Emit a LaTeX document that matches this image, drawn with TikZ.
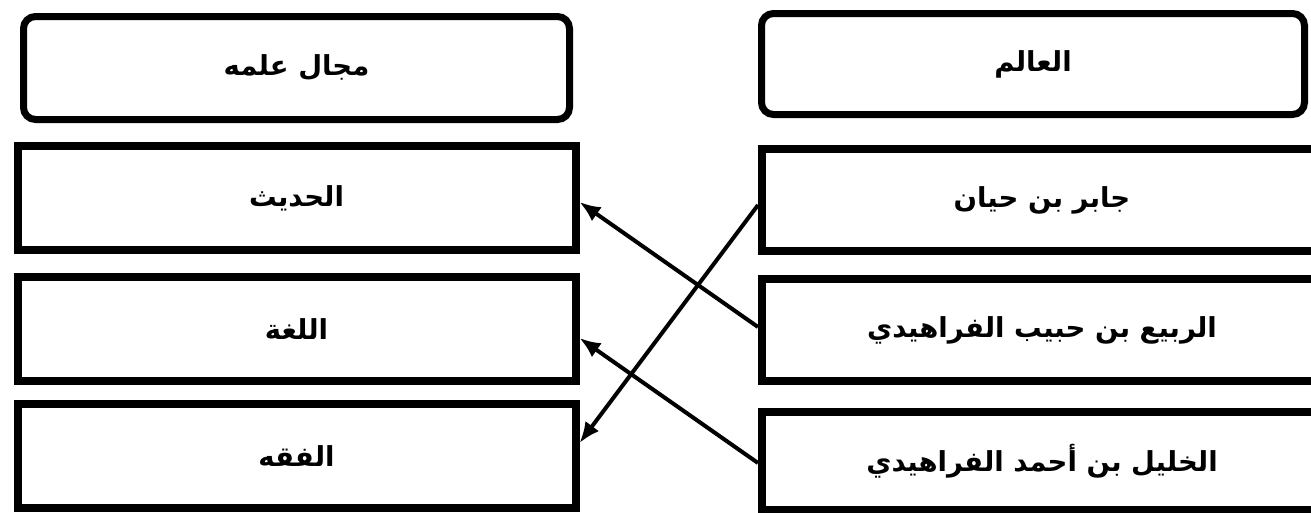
\documentclass[tikz,border=0pt]{standalone}
\usepackage{fontspec}
\newfontfamily\arabicfont[Script=Arabic]{DejaVu Sans}
\TeXXeTstate=1
\usetikzlibrary{positioning,arrows.meta}
\newcommand{\artext}[1]{{\arabicfont\bfseries\fontsize{27.5}{32}\selectfont\beginR #1\endR}}

\begin{document}
\begin{tikzpicture}[x=1pt, y=-1pt,
        headbox/.style={draw, line width=7pt, rounded corners=12pt, inner sep=0pt},
        cellbox/.style={draw, line width=8pt, inner sep=0pt},
        link/.style={-{Latex[length=21pt,width=17pt]}, line width=4pt}]
        \useasboundingbox (0,0) rectangle (1311,512);

        % Fields (left column)
        \node (F0) [headbox, minimum width=546pt, minimum height=103pt] at (296.5,68) {\artext{مجال علمه}};

        \node (F1) [cellbox, minimum width=558pt, minimum height=104pt, below=19pt of F0] {\artext{الحديث}};

        \node (F2) [cellbox, minimum width=558pt, minimum height=104pt, below=19pt of F1] {\artext{اللغة}};

        \node (F3) [cellbox, minimum width=558pt, minimum height=104pt, below=15pt of F2] {\artext{الفقه}};

        % Scholars (right column)
        \node (S0) [headbox, minimum width=543pt, minimum height=101pt] at (1033,64) {\artext{العالم}};

        \node (S1) [cellbox, minimum width=560pt, minimum height=102pt, below=27pt of S0, xshift=9pt] {\artext{جابر بن حيان}};

        \node (S2) [cellbox, minimum width=560pt, minimum height=102pt, below=20pt of S1] {\artext{الربيع بن حبيب الفراهيدي}};

        \node (S3) [cellbox, minimum width=560pt, minimum height=98pt, below=23pt of S2] {\artext{الخليل بن أحمد الفراهيدي}};

        % Drawing lines between the points
        \draw[link] ([yshift=-5pt]S1.west) -- ([yshift=13pt]F3.east);
        \draw[link] ([yshift=3pt]S2.west) -- ([yshift=-4pt]F1.east);
        \draw[link] ([yshift=-2pt]S3.west) -- ([yshift=-9pt]F2.east);
    \end{tikzpicture}
\end{document}
